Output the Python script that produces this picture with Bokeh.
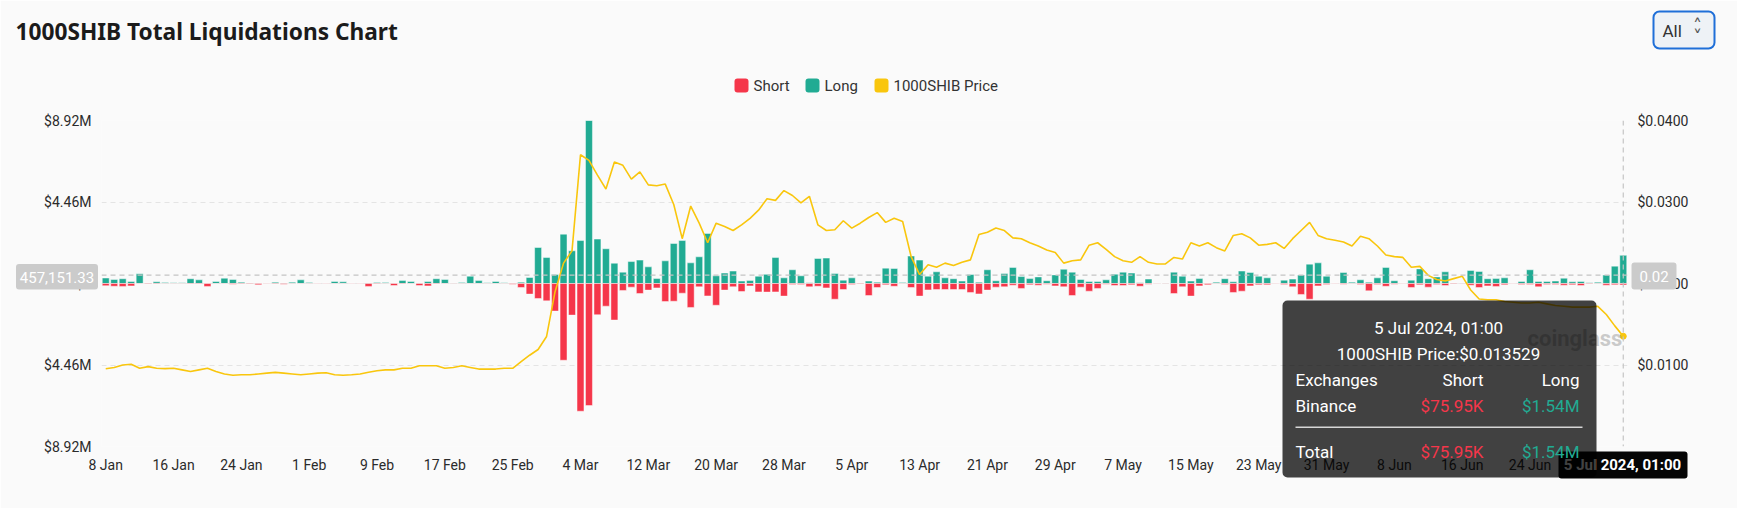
import pandas as pd
from bokeh.plotting import figure
from bokeh.models import (Range1d, LinearAxis, FixedTicker, CustomJSTickFormatter,
                          Span, ColumnDataSource)
from bokeh.core.properties import value
from bokeh.embed import file_html
from bokeh.resources import INLINE

# ---------------- data ----------------
days = pd.date_range("2024-01-08", "2024-07-05", freq="D")

long_m = [0.30, 0.22, 0.26, 0.11, 0.53, 0.03, 0.09, 0.06, 0.04, 0.04,
          0.26, 0.20, 0.02, 0.11, 0.29, 0.22, 0.07, 0.03, 0.02, 0.02,
          0.07, 0.03, 0.07, 0.20, 0.06, 0.02, 0.02, 0.11, 0.09, 0.02,
          0.02, 0.03, 0.06, 0.06, 0.02, 0.16, 0.11, 0.02, 0.11, 0.26,
          0.22, 0.03, 0.06, 0.40, 0.16, 0.04, 0.11, 0.04, 0.02, 0.07,
          0.33, 1.97, 1.42, 0.49, 2.70, 1.79, 2.35, 8.92, 2.43, 1.90,
          1.11, 0.62, 1.20, 1.28, 0.91, 0.27, 1.24, 2.19, 2.35, 1.13,
          1.46, 2.74, 0.42, 0.57, 0.68, 0.13, 0.16, 0.40, 0.50, 1.42,
          0.31, 0.75, 0.42, 0.04, 1.37, 1.39, 0.55, 0.18, 0.31, 0.03,
          0.13, 0.07, 0.84, 0.82, 0.05, 1.50, 1.28, 0.40, 0.64, 0.31,
          0.26, 0.13, 0.49, 0.07, 0.75, 0.15, 0.55, 0.88, 0.38, 0.27,
          0.36, 0.15, 0.47, 0.78, 0.62, 0.22, 0.11, 0.11, 0.20, 0.51,
          0.62, 0.57, 0.04, 0.24, 0.02, 0.03, 0.62, 0.40, 0.13, 0.27,
          0.02, 0.07, 0.26, 0.09, 0.68, 0.60, 0.40, 0.31, 0.02, 0.18,
          0.24, 0.46, 1.06, 1.13, 0.40, 0.02, 0.60, 0.07, 0.20, 0.07,
          0.31, 0.88, 0.15, 0.02, 0.18, 0.80, 0.26, 0.36, 0.64, 0.03,
          0.03, 0.71, 0.66, 0.26, 0.27, 0.31, 0.02, 0.11, 0.75, 0.11,
          0.11, 0.13, 0.29, 0.09, 0.11, 0.04, 0.07, 0.46, 0.95, 1.54]

short_m = [0.12, 0.15, 0.16, 0.13, 0.02, 0.03, 0.03, 0.02, 0.02, 0.02,
           0.03, 0.03, 0.16, 0.02, 0.02, 0.04, 0.03, 0.03, 0.07, 0.02,
           0.03, 0.04, 0.02, 0.02, 0.02, 0.02, 0.02, 0.02, 0.02, 0.02,
           0.02, 0.16, 0.03, 0.02, 0.11, 0.03, 0.02, 0.11, 0.13, 0.03,
           0.02, 0.02, 0.02, 0.02, 0.02, 0.02, 0.02, 0.02, 0.04, 0.22,
           0.58, 0.82, 0.95, 1.51, 4.20, 1.73, 6.99, 6.68, 1.71, 1.24,
           2.00, 0.38, 0.20, 0.55, 0.36, 0.24, 0.99, 0.97, 0.53, 1.31,
           0.18, 0.68, 1.19, 0.36, 0.18, 0.44, 0.13, 0.46, 0.47, 0.46,
           0.69, 0.05, 0.05, 0.18, 0.15, 0.24, 0.86, 0.33, 0.05, 0.03,
           0.66, 0.22, 0.07, 0.15, 0.02, 0.22, 0.69, 0.35, 0.33, 0.33,
           0.33, 0.33, 0.49, 0.57, 0.36, 0.20, 0.18, 0.09, 0.27, 0.07,
           0.09, 0.04, 0.13, 0.18, 0.66, 0.20, 0.42, 0.27, 0.04, 0.11,
           0.11, 0.07, 0.15, 0.04, 0.02, 0.02, 0.55, 0.18, 0.69, 0.13,
           0.07, 0.02, 0.05, 0.49, 0.42, 0.13, 0.07, 0.07, 0.02, 0.05,
           0.18, 0.60, 0.86, 0.13, 0.05, 0.02, 0.04, 0.02, 0.05, 0.40,
           0.05, 0.15, 0.04, 0.02, 0.22, 0.07, 0.20, 0.05, 0.11, 0.03,
           0.02, 0.09, 0.22, 0.13, 0.16, 0.07, 0.02, 0.05, 0.05, 0.18,
           0.05, 0.05, 0.09, 0.07, 0.11, 0.03, 0.02, 0.09, 0.07, 0.076]

price = [0.00955, 0.0097, 0.0100, 0.0101, 0.0096, 0.0098, 0.0096, 0.00955, 0.0096, 0.0094,
         0.0092, 0.0094, 0.0096, 0.0092, 0.0089, 0.00875, 0.0088, 0.0088, 0.0089, 0.0090,
         0.0091, 0.0090, 0.0089, 0.0088, 0.0089, 0.0090, 0.00905, 0.0088, 0.00875, 0.0088,
         0.0089, 0.0091, 0.0093, 0.0094, 0.0094, 0.0096, 0.0096, 0.0099, 0.0099, 0.0099,
         0.0096, 0.0097, 0.0099, 0.0097, 0.0095, 0.0095, 0.0095, 0.0096, 0.0096, 0.0104,
         0.0112, 0.0119, 0.0135, 0.0190, 0.0225, 0.0240, 0.0358, 0.0351, 0.0333, 0.0316,
         0.0349, 0.0345, 0.0328, 0.0337, 0.0321, 0.0320, 0.0322, 0.0297, 0.0255, 0.0295,
         0.0274, 0.0250, 0.0274, 0.0270, 0.0265, 0.0272, 0.0280, 0.0290, 0.0304, 0.0302,
         0.0314, 0.0308, 0.0299, 0.0307, 0.0272, 0.0265, 0.0266, 0.0277, 0.0268, 0.0274,
         0.0281, 0.0287, 0.0275, 0.0280, 0.0276, 0.0233, 0.0211, 0.0223, 0.0220, 0.0225,
         0.0222, 0.0226, 0.0229, 0.0260, 0.0263, 0.0268, 0.0265, 0.0256, 0.0255, 0.0250,
         0.0246, 0.0241, 0.0238, 0.0225, 0.0228, 0.0229, 0.0247, 0.0250, 0.0242, 0.0233,
         0.0228, 0.0226, 0.0233, 0.0226, 0.0224, 0.0224, 0.0232, 0.0230, 0.0250, 0.0246,
         0.0250, 0.0244, 0.0240, 0.0259, 0.0261, 0.0256, 0.0247, 0.0248, 0.0250, 0.0243,
         0.0255, 0.0265, 0.0275, 0.0259, 0.0255, 0.0253, 0.0251, 0.0246, 0.0258, 0.0255,
         0.0246, 0.0235, 0.0233, 0.0232, 0.0220, 0.0221, 0.0210, 0.0205, 0.0203, 0.0206,
         0.0209, 0.0192, 0.0181, 0.0180, 0.0180, 0.0178, 0.0177, 0.0176, 0.0176, 0.0177,
         0.0175, 0.0173, 0.0172, 0.0171, 0.0171, 0.0171, 0.0172, 0.0162, 0.0148, 0.013529]

tick_idx = list(range(0, 180, 8))
tick_labels = ["8 Jan", "16 Jan", "24 Jan", "1 Feb", "9 Feb", "17 Feb", "25 Feb", "4 Mar",
               "12 Mar", "20 Mar", "28 Mar", "5 Apr", "13 Apr", "21 Apr", "29 Apr", "7 May",
               "15 May", "23 May", "31 May", "8 Jun", "16 Jun", "24 Jun", "2 Jul"]
left_ticks = [-8.92, -4.46, 0, 4.46, 8.92]
right_ticks = [0.01, 0.02, 0.03, 0.04]

hover_idx = 179
hover_value = 0.45715133  # crosshair level on the left axis (millions)

# ---------------- colours / fonts ----------------
RED = "#F5364A"
GREEN = "#21AB93"
GOLD = "#F9C60D"
BG = "#FAFAFA"
FONT = "Roboto"

W, H = 1737, 508
FL, FR, FT, FBOT = 101, 1627, 120, 446      # plot frame in page pixels
n = len(days)
XR = (-0.5, n - 0.5)
YR = (-8.92, 8.92)

src = ColumnDataSource(dict(x=list(range(n)), long=long_m,
                            short=[-s for s in short_m], price=price))

p = figure(width=W, height=H, output_backend="svg", toolbar_location=None,
           x_range=Range1d(*XR), y_range=Range1d(*YR),
           min_border_left=FL, min_border_right=W - FR, min_border_top=FT, min_border_bottom=H - FBOT,
           background_fill_color=BG, border_fill_color=BG, outline_line_color=None)
p.extra_y_ranges = {"price": Range1d(0, 0.04)}

# axes
p.xaxis.ticker = FixedTicker(ticks=tick_idx)
p.xaxis.major_label_overrides = {i: l for i, l in zip(tick_idx, tick_labels)}
p.yaxis.ticker = FixedTicker(ticks=left_ticks)
p.yaxis.formatter = CustomJSTickFormatter(
    code="if (Math.abs(tick) < 1e-9) { return '$0'; } return '$' + Math.abs(tick).toFixed(2) + 'M';")
ra = LinearAxis(y_range_name="price", ticker=FixedTicker(ticks=right_ticks),
                formatter=CustomJSTickFormatter(code="return '$' + tick.toFixed(4);"))
p.add_layout(ra, "right")
for ax in [p.xaxis[0], p.yaxis[0], ra]:
    ax.axis_line_color = None
    ax.major_tick_line_color = None
    ax.minor_tick_line_color = None
    ax.major_tick_in = 0
    ax.major_tick_out = 0
    ax.major_label_text_font = FONT
    ax.major_label_text_font_size = "14px"
    ax.major_label_text_color = "#2b2b2b"
    ax.major_label_standoff = 10
p.xaxis.major_label_standoff = 10

p.xgrid.visible = False
p.ygrid.ticker = FixedTicker(ticks=left_ticks)
p.ygrid.grid_line_color = "#E4E4E4"
p.ygrid.grid_line_dash = "5 4"

# bars and price line
p.vbar(x="x", top="long", bottom=0, width=0.82, source=src,
       fill_color=GREEN, line_color="white", line_alpha=0.45, line_width=1)
p.vbar(x="x", top=0, bottom="short", width=0.82, source=src,
       fill_color=RED, line_color="white", line_alpha=0.45, line_width=1)
p.line(x="x", y="price", source=src, y_range_name="price", line_color=GOLD, line_width=1.6)
p.scatter(x=[hover_idx], y=[price[hover_idx]], y_range_name="price", size=6,
          fill_color=GOLD, line_color=GOLD)

# crosshair
p.add_layout(Span(location=hover_value, dimension="width", line_color="#C4C4C4",
                  line_dash="5 4", line_width=1.2))
p.add_layout(Span(location=hover_idx, dimension="height", line_color="#C4C4C4",
                  line_dash="5 4", line_width=1.2))


# ------------- page-pixel helpers for the decorations -------------
def dx(px):
    return XR[0] + (px - FL) / (FR - FL) * (XR[1] - XR[0])


def dy(py):
    return YR[1] - (py - FT) / (FBOT - FT) * (YR[1] - YR[0])


def txt(x, y, text, size="14px", color="#2b2b2b", align="left", bold=False, font=FONT, alpha=1.0):
    p.text(x=[dx(x)], y=[dy(y)], text=[text], text_font=value(font), text_font_size=value(size),
           text_color=color, text_align=align, text_baseline="middle",
           text_font_style="bold" if bold else "normal", text_alpha=alpha, level="overlay")


def box(l, r, t, b, fill, alpha=1.0, line=None, lw=1, radius=0):
    p.quad(left=[dx(l)], right=[dx(r)], top=[dy(t)], bottom=[dy(b)], fill_color=fill,
           fill_alpha=alpha, line_color=line, line_width=lw, border_radius=radius, level="overlay")


# title
txt(15, 31, "1000SHIB Total Liquidations Chart", size="22.7px", color="#1b1b1b", bold=True,
    font="Noto Sans")

# "All" selector
box(1653, 1714, 11, 48, "#EEF2F6", line="#1F6FD8", lw=2, radius=6)
txt(1662, 30, "All", size="17px", color="#333333")
txt(1697, 25, "\u02C4", size="18px", color="#555555", font="DejaVu Sans", align="center")
txt(1697, 36, "\u02C5", size="18px", color="#555555", font="DejaVu Sans", align="center")

# legend
box(734, 748, 78, 92, RED, radius=3)
txt(753, 85, "Short", size="15px", color="#333333")
box(805, 819, 78, 92, GREEN, radius=3)
txt(824, 85, "Long", size="15px", color="#333333")
box(874, 888, 78, 92, GOLD, radius=3)
txt(893, 85, "1000SHIB Price", size="15px", color="#333333")

# crosshair labels
box(15.5, 97.5, 263.5, 289, "#CBCBCB", radius=3)
txt(56.5, 276.5, "457,151.33", size="15px", color="white", align="center")
box(1631, 1676, 262, 289, "#CBCBCB", radius=3)
txt(1653.5, 275.5, "0.02", size="15px", color="white", align="center")
box(1558, 1687, 451, 478, "#050505", radius=3)
txt(1622, 464.5, "5 Jul 2024, 01:00", size="15px", color="white", align="center", bold=True)

# watermark
txt(1527, 338, "coinglass", size="22px", color="#9A9A9A", bold=True, alpha=0.5)

# tooltip (translucent black panel)
box(1282, 1596, 300, 477, "#000000", alpha=0.74, radius=5)
txt(1438, 327, "5 Jul 2024, 01:00", size="17px", color="white", align="center")
txt(1438, 353, "1000SHIB Price:$0.013529", size="17px", color="white", align="center")
txt(1295, 379, "Exchanges", size="17px", color="white")
txt(1483, 379, "Short", size="17px", color="white", align="right")
txt(1579, 379, "Long", size="17px", color="white", align="right")
txt(1295, 405, "Binance", size="17px", color="white")
txt(1483, 405, "$75.95K", size="17px", color=RED, align="right")
txt(1579, 405, "$1.54M", size="17px", color=GREEN, align="right")
box(1295, 1582, 426, 427.5, "#D6D6D6")
txt(1295, 451, "Total", size="17px", color="white")
txt(1483, 451, "$75.95K", size="17px", color=RED, align="right")
txt(1579, 451, "$1.54M", size="17px", color=GREEN, align="right")

open("out.html", "w").write(file_html(p, INLINE))
